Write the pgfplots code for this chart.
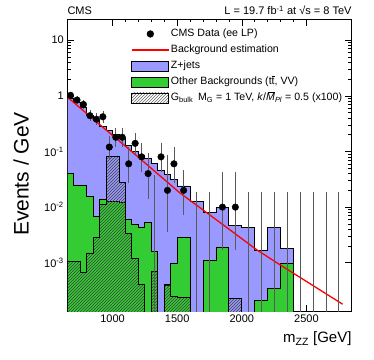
\documentclass[border=0pt]{standalone}
\usepackage{fontspec}
\setmainfont{Liberation Sans}
\usepackage{pgfplots}
\usepackage{pgfplotstable}
\pgfplotsset{compat=1.18}
\usetikzlibrary{patterns}
\definecolor{zlav}{RGB}{153,153,255}
\definecolor{ogreen}{RGB}{51,204,51}

% stack top (Z+jets + other), per bin left edge
\pgfplotstableread{
x y
650 1e-6
650 0.90
700 0.75
750 0.62
800 0.45
850 0.36
900 0.28
950 0.24
1000 0.20
1050 0.17
1100 0.13
1150 0.099
1200 0.085
1250 0.075
1300 0.061
1350 0.046
1400 0.038
1450 0.031
1500 0.024
1600 0.0125
1700 0.0081
1800 0.0099
1900 0.0047
2000 0.0043
2100 0.00166
2200 0.0043
2300 0.0018
2400 1e-6
2800 1e-6
}\zjets

\pgfplotstableread{
x y
650 1e-6
650 0.040
700 0.025
750 0.025
800 0.0153
850 0.0067
900 0.014
950 0.0125
1000 0.0125
1050 0.012
1100 0.0059
1150 0.0048
1200 0.0044
1250 0.0052
1300 0.0016
1350 1e-6
1400 0.00039
1450 0.00099
1500 0.0029
1600 1e-6
1700 0.00109
1800 0.0019
1900 1e-6
2000 1e-6
2100 0.00021
2200 0.00034
2300 0.00099
2400 1e-6
2800 1e-6
}\other

\pgfplotstableread{
x y
650 1e-6
650 0.00105
700 0.00105
750 0.00066
800 0.0015
850 0.0028
900 0.011
950 0.08
1000 0.08
1050 0.028
1100 0.0034
1150 0.0012
1200 0.0004
1250 1e-6
1300 0.0007
1350 1e-6
1400 0.0004
1450 0.00025
1500 0.00024
1600 1e-6
1900 0.00023
2000 1e-6
2800 1e-6
}\signal

\pgfplotstableread{
x y
655 0.93
900 0.305
1135 0.106
1522 0.0179
1700 0.0089
2117 0.0017
2295 0.00092
2780 0.00018
}\fit

\pgfplotstableread{
x y ep em
675 1.02 0.154 0.142
725 0.84 0.14 0.13
775 0.70 0.138 0.118
825 0.44 0.116 0.094
875 0.38 0.108 0.086
925 0.42 0.112 0.092
975 0.12 0.072 0.048
1025 0.18 0.082 0.058
1075 0.18 0.082 0.058
1125 0.06 0.058 0.033
1175 0.14 0.075 0.052
1225 0.08 0.063 0.038
1275 0.04 0.053 0.026
1375 0.08 0.063 0.038
1425 0.02 0.066 0.0165
1475 0.06 0.058 0.033
1550 0.02 0.0264 0.0129
1850 0.01 0.033 0.0083
1950 0.01 0.033 0.0083
}\data

\pgfplotstableread{
x y ep
1325 1e-4 0.0369
1650 1e-4 0.0183
1750 1e-4 0.0183
2050 1e-4 0.0183
2150 1e-4 0.0183
2250 1e-4 0.0183
2350 1e-4 0.0183
2450 1e-4 0.0183
2550 1e-4 0.0183
2650 1e-4 0.0183
2750 1e-4 0.0183
}\empty

\newcommand{\tbar}{\makebox[0pt][l]{\raisebox{0.78em}{\rule{0.28em}{0.4pt}}}t}

\begin{document}
\begin{tikzpicture}
\begin{axis}[name=ax, scale only axis, width=284.4pt, height=292.7pt,
  ymode=log, xmin=650, xmax=2850, ymin=1.32e-4, ymax=24,
  xtick={1000,1500,2000,2500}, xticklabels={1000,1500,2000,2500},
  minor x tick num=4,
  ytick={1e-3,1e-2,1e-1,1,10},
  yticklabels={10\textsuperscript{-3},10\textsuperscript{-2},10\textsuperscript{-1},1,10},
  tick align=inside, major tick length=7pt, minor tick length=3.5pt,
  every tick/.style={black, line width=0.6pt},
  axis line style={line width=0.9pt},
  ticklabel style={font=\fontsize{11}{13}\selectfont},
  xlabel={m\textsubscript{ZZ} [GeV]},
  ylabel={Events / GeV},
  xlabel style={at={(rel axis cs:1,0)}, anchor=north east, yshift=-20pt, inner sep=0pt, font=\fontsize{15}{17}\selectfont},
  ylabel style={at={(axis description cs:-0.162,0.47)}, anchor=center, inner sep=0pt, font=\fontsize{21}{23}\selectfont},
  legend cell align=left,
  legend style={at={(rel axis cs:0.2134,1)}, anchor=north west, yshift=-6pt, draw=none, fill=none,
     font=\fontsize{10.6}{13}\selectfont, row sep=2.5pt,
     nodes={inner sep=1.5pt, text height=8pt, text depth=2.5pt}},
]
% legend images
\addlegendimage{legend image code/.code={\draw[black, fill=black] (18.5pt,0pt) circle (3.4pt);}}
\addlegendentry{CMS Data (ee LP)}
\addlegendimage{legend image code/.code={\draw[red, line width=1.3pt] (0pt,0pt) -- (37pt,0pt);}}
\addlegendentry{Background estimation}
\addlegendimage{legend image code/.code={\draw[fill=zlav, draw=black, line width=0.8pt] (0pt,-5pt) rectangle (37pt,5pt);}}
\addlegendentry{Z+jets}
\addlegendimage{legend image code/.code={\draw[fill=ogreen, draw=black, line width=0.8pt] (0pt,-5pt) rectangle (37pt,5pt);}}
\addlegendentry{Other Backgrounds (t\tbar, VV)}
\addlegendimage{legend image code/.code={\draw[pattern=north east lines, pattern color=black!60, draw=black, line width=0.8pt] (0pt,-5pt) rectangle (37pt,5pt);}}
\addlegendentry{G\textsubscript{bulk}\hspace{0.45em}M\textsubscript{G} = 1 TeV, \textit{k}/\textit{M}\kern-0.62em\raisebox{0.78em}{\rule{0.6em}{0.4pt}}\textsubscript{\kern0.05em\textit{Pl}} = 0.5 (x100)}

\addplot[const plot, fill=zlav, draw=black, line width=0.9pt, forget plot] table[x=x,y=y] {\zjets};
\addplot[const plot, fill=ogreen, draw=black, line width=0.9pt, forget plot] table[x=x,y=y] {\other};
\addplot[const plot, pattern=north east lines, pattern color=black!75, draw=black, line width=0.9pt, forget plot] table[x=x,y=y] {\signal};
\addplot[red, line width=1.3pt, forget plot] table[x=x,y=y] {\fit};
\addplot[only marks, mark=none, forget plot,
  error bars/.cd, y dir=plus, y explicit, error mark=none,
  error bar style={black!65, line width=0.7pt}]
  table[x=x, y=y, y error plus=ep] {\empty};
\addplot[only marks, mark=*, mark size=3.3pt, black, forget plot,
  error bars/.cd, y dir=both, y explicit, error mark=none,
  error bar style={black!65, line width=0.7pt}]
  table[x=x, y=y, y error plus=ep, y error minus=em] {\data};
\end{axis}
\node[anchor=base west, inner sep=0pt, font=\fontsize{11}{13}\selectfont] at ([yshift=4pt]ax.north west) {CMS};
\node[anchor=base east, inner sep=0pt, font=\fontsize{11}{13}\selectfont] at ([yshift=4pt]ax.north east) {L = 19.7 fb\textsuperscript{-1} at √s = 8 TeV};
\path (ax.south west) ++(-67.3pt,-47.3pt);
\path (ax.north east) ++(22.3pt,19pt);
\end{tikzpicture}
\end{document}
